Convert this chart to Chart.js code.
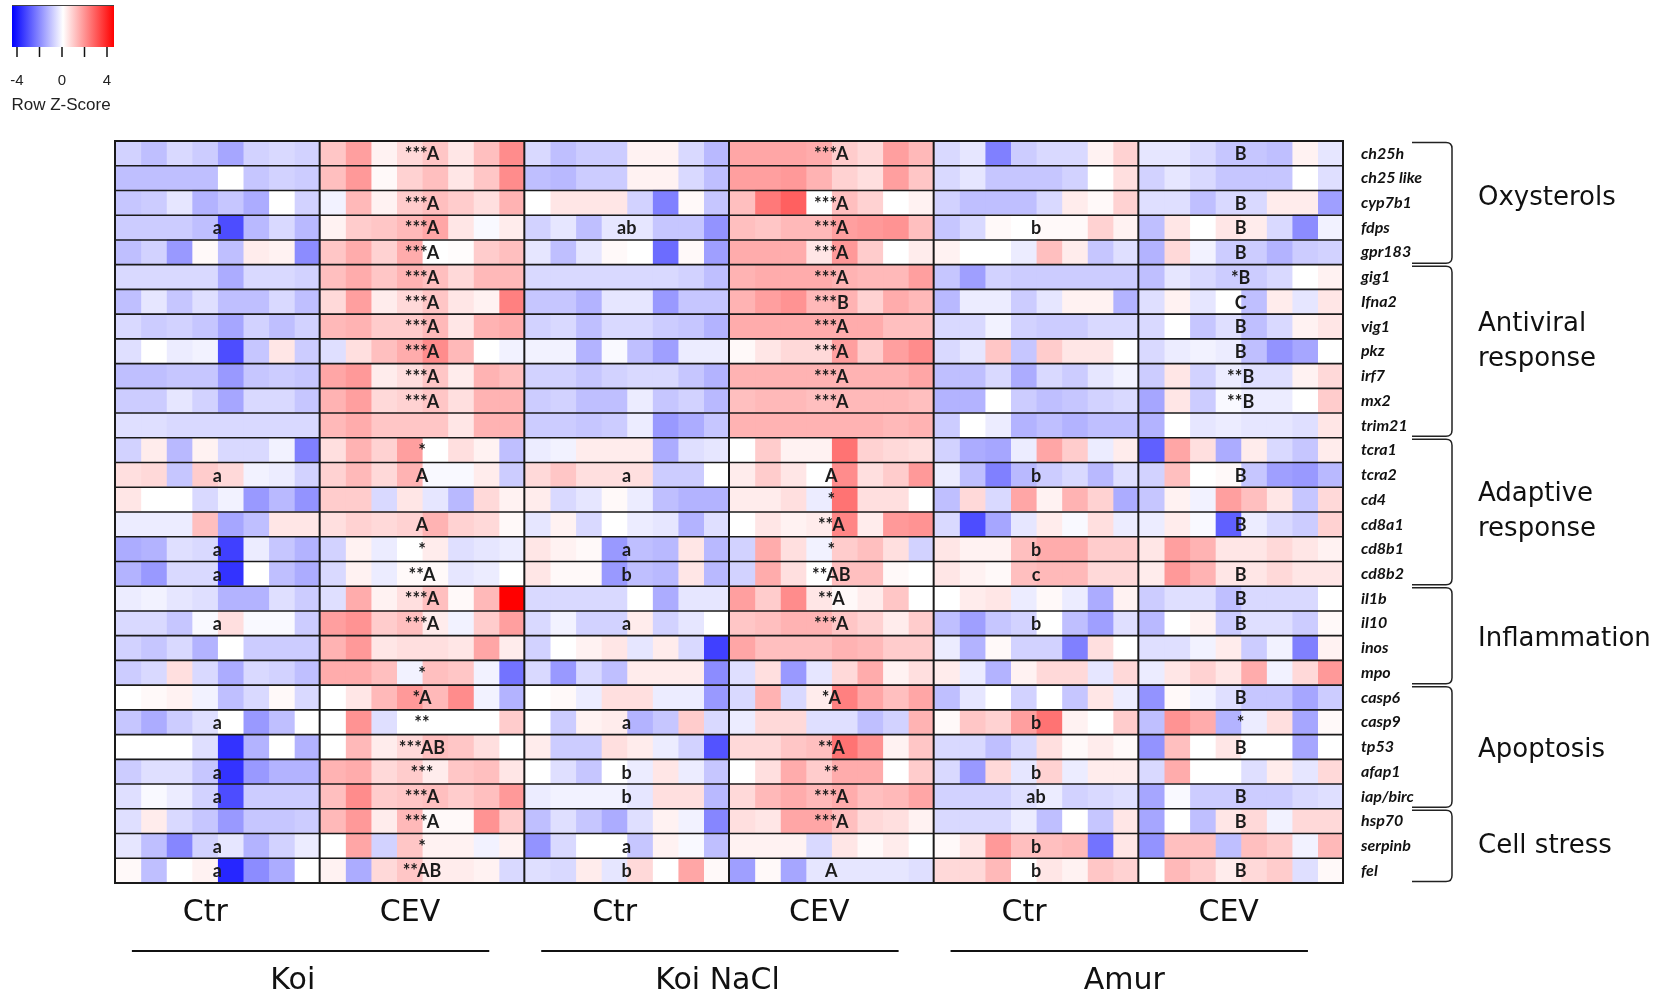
<!DOCTYPE html>
<html>
<head>
<meta charset="utf-8">
<script src="https://cdn.jsdelivr.net/npm/chart.js@4.4.1/dist/chart.umd.min.js"></script>
<style>
html,body{margin:0;padding:0;background:#fff;}
#wrap{width:1654px;height:998px;position:relative;}
</style>
</head>
<body>
<div id="wrap"><canvas id="c" width="1654" height="998"></canvas></div>
<script>
// ---------------- DATA ----------------
// Column order: Koi Ctr (8) | Koi CEV (8) | Koi NaCl Ctr (8) | Koi NaCl CEV (8) | Amur Ctr (8) | Amur CEV (8)
const genes = ['ch25h','ch25 like','cyp7b1','fdps','gpr183','gig1','Ifna2','vig1','pkz','irf7','mx2','trim21',
  'tcra1','tcra2','cd4','cd8a1','cd8b1','cd8b2','il1b','il10','inos','mpo','casp6','casp9','tp53','afap1','iap/birc',
  'hsp70','serpinb','fel'];

const ch25h   = [-0.7,-1.0,-0.6,-0.8,-1.4,-0.7,-0.6,-0.7, 0.9,1.5,0.2,0.6,0.9,0.4,1.0,1.8, -0.6,-1.0,-0.8,-0.8,0.2,0.2,-0.6,-1.1, 1.4,1.4,1.4,1.3,0.8,0.6,1.5,1.1, -0.6,-0.4,-2.0,-0.8,-0.6,-0.6,0.2,0.7, -0.4,-0.4,-0.6,-0.9,-0.9,-1.0,0.2,-0.4];
const ch25like= [-1.0,-1.0,-1.0,-1.0,0,-0.9,-0.7,-0.8, 1.0,1.6,0.1,0.7,1.0,0.4,0.9,1.8, -1.0,-1.1,-0.8,-0.8,0.2,0.2,-0.6,-1.0, 1.5,1.5,1.6,1.2,0.7,0.5,1.5,0.9, -0.6,-0.4,-0.9,-0.9,-0.9,-0.7,0,0.5, -0.7,-0.4,-0.6,-0.9,-0.9,-0.9,0,-0.5];
const cyp7b1  = [-0.9,-0.8,-0.4,-1.2,-0.9,-1.3,0,-0.7, -0.2,1.1,0.2,0.8,1.0,0.8,0.5,1.2, 0,0.4,0.4,0.4,-0.7,-2.0,0.1,-0.9, 1.0,2.1,2.5,0,1.0,0.7,0,0.2, -0.7,-1.0,-1.0,-1.0,-0.6,0.3,0.1,0.7, -0.5,-0.5,-1.0,-0.6,-0.6,0.3,0.3,-1.5];
const fdps    = [-0.8,-0.8,-0.8,-1.0,-2.8,-1.1,-0.6,-1.1, 0.2,0.8,0.9,1.1,1.4,0.4,-0.1,0.3, -0.7,-0.4,-1.0,-0.4,-0.4,-0.9,-0.9,-1.7, 1.0,0.9,1.1,1.1,1.5,1.6,1.7,1.0, -0.9,-0.6,0.1,0,0.1,0.1,0.7,0.2, -1.0,0.4,0,0.4,0.3,-0.6,-1.8,-0.2];
const gpr183  = [-1.0,-0.7,-1.6,0.1,-1.0,0.3,0.2,-1.8, 0.9,1.3,0.7,1.3,0,0.05,0.8,1.0, -0.4,-1.0,-0.4,0.1,0,-2.3,0.1,-1.5, 1.3,1.3,1.3,0.4,1.6,0.8,0,0.3, 0.2,0,0,-0.3,1.0,0.3,-0.9,-0.5, -1.2,0.6,-0.2,-0.8,-0.8,-1.2,-0.8,-0.7];
const gig1    = [-0.6,-0.6,-0.6,-0.6,-1.3,-0.6,-0.6,-0.7, 1.0,1.3,0.9,1.2,1.0,0.6,1.1,1.1, -0.6,-0.6,-0.6,-0.6,-0.6,-0.6,-0.7,-1.0, 1.2,1.3,1.3,1.3,1.2,1.1,1.1,1.5, -0.9,-1.5,-0.7,-0.8,-0.8,-0.8,-0.8,-0.8, -1.0,-0.4,-0.6,-0.8,-0.8,-0.6,0,0.2];
const ifna2   = [-1.0,-0.4,-0.9,-0.5,-1.0,-1.0,-0.6,-1.0, 0.6,1.5,0.3,0.6,0.9,0.4,0.2,2.0, -0.9,-0.9,-1.2,-0.4,-0.4,-1.6,-0.9,-0.9, 1.2,1.5,1.7,1.1,1.2,0.7,1.3,1.1, -1.1,-0.3,-0.3,-0.8,-0.4,0.2,0.2,-1.2, -0.5,0.2,-0.4,0,-1.0,0.3,-0.4,0.4];
const vig1    = [-0.6,-0.8,-0.7,-0.9,-1.4,-0.7,-1.0,-0.7, 1.1,1.2,0.8,0.8,1.1,0.4,1.2,1.3, -0.7,-0.6,-1.0,-0.6,-0.6,-0.8,-0.9,-1.2, 1.3,1.3,1.3,1.3,1.3,1.3,1.0,1.0, -0.6,-0.6,-0.2,-0.7,-0.8,-0.8,-0.6,-0.6, -0.6,0,-0.9,-0.5,-1.0,-0.6,0.2,0.4];
const pkz     = [-0.5,0,-0.3,-0.2,-2.8,-0.9,0.4,-0.8, -0.5,0.5,1.0,1.3,1.8,1.1,0,-0.2, -0.2,-0.2,-1.2,-0.1,-1.0,-1.5,-0.3,-0.3, 0.1,0.4,0.6,0.6,1.5,0.8,1.5,1.8, -0.6,-0.4,0.9,-0.9,0.8,0.4,0.4,0, -0.6,-0.3,-0.2,-0.3,-1.0,-1.7,-1.4,0];
const irf7    = [-1.0,-1.0,-0.9,-0.9,-1.6,-0.9,-0.8,-0.9, 1.4,1.6,0.3,0.5,0.9,0.3,1.2,1.0, -0.7,-0.7,-0.9,-0.7,-0.6,-0.6,-0.9,-1.2, 1.2,1.2,1.2,1.2,1.2,1.2,1.2,1.4, -1.0,-1.0,-0.6,-1.3,-0.6,-0.8,-0.4,-0.2, -0.8,0.4,-0.7,-0.3,-0.5,-0.5,0.2,0.6];
const mx2     = [-0.8,-0.8,-0.4,-0.7,-1.4,-0.6,-0.6,-0.9, 1.2,1.5,0.6,0.7,0.9,0.5,1.2,1.2, -0.8,-0.7,-1.0,-1.0,-0.3,-0.9,-0.7,-1.1, 1.0,1.1,1.1,1.0,1.1,1.1,1.1,1.0, -1.2,-1.2,0,-0.8,-1.0,-0.9,-0.7,-0.6, -1.4,0.4,-0.8,-0.1,-0.3,-0.3,0,0.8];
const trim21  = [-0.5,-0.5,-0.6,-0.6,-0.6,-0.6,-0.6,-0.6, 1.1,1.3,0.9,0.9,0.9,0.4,1.2,1.2, -0.8,-0.8,-0.9,-0.8,-0.3,-1.6,-1.3,-0.9, 1.2,1.2,1.2,1.2,1.2,1.2,1.1,1.2, -0.8,0,-0.3,-1.2,-1.0,-1.2,-1.0,-1.0, -1.2,0,-0.4,-0.3,-0.4,-0.4,-0.5,0.4];
const tcra1   = [-0.7,0.3,-1.1,0.2,-0.6,-0.6,-0.2,-2.0, 0.5,1.2,0.7,1.5,0,0.5,0.2,-1.0, -0.3,-0.2,0.3,0.3,0.3,-1.3,-0.5,-0.4, 0,0.8,0.2,0.2,2.2,0.7,0.6,0.5, -0.7,-1.3,-1.4,-0.3,1.4,0.8,-0.3,0.3, -2.5,1.4,0.5,-1.3,0.3,-0.6,-0.9,0.3];
const tcra2   = [0.5,0.6,-0.9,0.8,0.6,-0.2,-0.3,-0.7, 0.7,1.1,0.6,1.2,-0.1,-0.1,0.3,-0.8, 0.6,0.9,0.5,0.5,0.5,-0.8,-0.8,0, 0.3,0.8,0.4,0,1.8,0.5,0.8,1.6, -0.3,-1.0,-2.0,-1.1,-0.8,-0.6,-1.1,-0.5, -0.7,1.0,0,0.1,-0.9,-1.5,-1.6,-1.1];
const cd4     = [0.4,0,0,-0.6,-0.2,-1.6,-1.1,-1.7, 0.8,0.8,-0.6,0.4,-0.4,-1.1,0.6,0.2, 0.3,-0.6,-0.4,0.1,-0.3,-1.0,-1.2,-1.2, 0.3,0.3,0.5,-0.3,2.2,0.5,0.5,0, -1.0,0.6,-0.6,1.4,0.2,1.2,0.7,-1.3, -0.9,0.2,-0.2,1.5,1.0,0.4,-0.9,0.6];
const cd8a1   = [-0.3,-0.3,-0.3,1.0,-1.4,-1.0,0.4,0.4, 0.5,0.7,0.6,0.7,1.2,0.7,0.6,0.1, -0.4,0.2,-0.6,0,-0.3,-0.4,-1.2,-0.5, 0,0.4,0.2,0.3,1.9,0.3,1.6,1.7, -0.6,-2.8,-1.4,-0.4,0.3,-0.1,0.5,-0.3, -0.3,0.3,-0.1,-2.5,-0.3,-0.6,-0.8,0.7];
const cd8b1   = [-1.3,-1.2,-0.5,-0.6,-3.0,-0.3,-0.9,-1.2, -0.7,0.2,-0.3,0,0.3,-0.5,-0.4,-0.3, 0.4,0.2,0.1,-1.6,-1.0,-1.1,0.4,-1.1, -0.7,1.3,0.5,-0.2,0.8,1.0,0.5,-0.7, 0.4,0.2,0.2,1.0,1.3,1.3,0.8,0.8, 0.4,1.5,1.2,0.4,0.4,0.6,0.4,0.2];
const cd8b2   = [-1.2,-1.6,-0.6,-0.6,-3.2,0,-1.0,-1.3, -0.6,0.2,-0.3,0.1,0.1,-0.4,-0.3,0, 0.4,0.1,0.1,-1.6,-1.0,-1.1,0.4,-1.1, -0.7,1.3,0.5,0,1.0,1.0,0.1,0, 0.4,0.2,0.1,1.0,1.1,1.1,0.6,0.6, 0.3,1.6,1.2,0.4,0.4,0.6,0.4,0.4];
const il1b    = [-0.3,-0.2,-0.4,-0.5,-1.2,-1.2,-0.5,-0.8, -0.5,1.3,0.2,0.5,1.0,0.1,1.1,4.0, -0.6,-0.6,-0.6,-0.6,0,-1.3,-0.4,-0.4, 1.5,0.8,1.8,0.4,0.1,0.3,0.9,0, 0,0.3,0.4,-0.3,0.1,-0.3,-1.3,0.2, -0.8,-0.5,-0.5,-1.0,-0.6,-0.6,-0.6,0];
const il10    = [-0.6,-0.6,-0.9,-0.1,0.5,-0.1,-0.1,-0.8, 1.5,1.7,0.8,1.0,0.3,-0.2,0.8,1.5, -0.6,-0.2,-0.7,-0.7,0.3,-0.7,-0.4,0, 0.9,1.0,1.2,1.2,0.9,0.7,0.3,0.8, -1.0,-1.5,-0.9,-0.7,0,-1.0,-1.5,-0.5, -1.1,0,0.2,-0.8,-0.5,-0.5,-0.8,0.1];
const inos    = [-0.7,-0.9,-0.6,-1.2,0,-0.8,-0.8,-0.8, 1.2,1.6,0.4,0.5,0.5,0.4,1.4,0.3, -0.7,0,0.2,0.4,-0.4,0.3,-0.6,-3.0, 1.4,1.0,1.0,1.0,1.2,1.1,0.8,0.8, -0.3,-1.2,0.1,-0.7,-0.7,-2.0,0.5,0, -0.5,-0.5,-0.2,0.3,-0.8,-0.2,-2.0,0.2];
const mpo     = [-0.8,-0.6,0.5,-0.6,-1.3,-0.6,-0.7,-1.0, 1.3,1.3,1.0,-0.2,1.0,0.9,-0.2,-2.2, -0.6,-1.6,-0.6,-1.0,0.3,0.3,0.3,-1.8, -0.5,0.5,-1.6,-0.4,0.6,1.3,0.2,0.5, 0.3,-0.3,-1.2,0.2,0.6,0.6,-0.4,0.6, -0.3,0.4,0.7,0.4,1.3,-0.2,0.6,1.6];
const casp6   = [0,0.1,0.2,-0.2,-1.0,-0.6,0.1,-0.6, 0,0.4,1.1,1.6,1.1,1.8,-0.2,-1.2, 0,0.1,-0.3,0.5,0.5,-0.3,-0.3,-1.6, -0.6,1.2,-0.6,0.3,2.0,1.4,1.0,1.4, -1.0,-0.4,0,-0.7,0,-0.9,0.4,-0.3, -1.7,0.1,-0.2,-0.5,-0.9,-0.9,-1.4,-0.8];
const casp9   = [-0.9,-1.3,-0.8,-0.5,0,-1.6,-1.0,0, 0,1.7,-0.5,0,0,0,0,0.8, 0,-0.8,0.2,0.3,-1.2,-0.9,0.8,-0.6, -0.3,0.6,0.6,-0.5,-0.5,-1.0,-0.7,1.2, 0.1,0.9,0.7,1.5,2.2,0.2,0,0.8, -1.0,1.7,1.3,-1.2,-0.3,0.5,-1.4,0.1];
const tp53    = [0,0,0,-0.5,-3.2,-1.2,0,-1.2, 0,1.1,0.3,0.6,1.0,0.9,0.5,0, 0.3,-0.8,-0.8,0.5,0.3,-0.3,-0.7,-2.7, 0.6,0.6,0.9,1.0,2.2,1.7,0.2,0.9, -0.6,-0.6,-1.0,-0.6,0.5,0.1,0.3,0.1, -1.7,1.0,0,0.4,0,0,-1.4,0];
const afap1   = [-0.8,-0.5,-0.5,-0.9,-3.2,-1.6,-1.2,-1.2, 1.2,1.3,0.6,0.8,0.3,0.9,1.0,0.4, 0,-0.5,-0.9,0,-0.3,0.4,-0.3,-0.9, 0,0.5,1.3,0.8,1.3,1.3,0,0.8, -0.6,-1.6,0.6,-0.4,0.7,-0.3,0.3,0.3, -0.6,1.3,0,0,-0.5,0.3,-0.4,0.6];
const iapbirc = [-0.5,-0.1,-0.3,-0.7,-2.8,-0.8,-0.8,-0.8, 1.0,1.8,0.8,0.9,1.0,0.8,1.0,1.6, -0.3,-0.2,-0.2,-0.2,-0.4,0.5,0.5,-1.1, 0.6,1.1,1.3,1.1,1.3,1.0,1.1,1.4, -0.7,-0.7,-0.7,-0.5,-0.3,-0.7,-0.6,-0.5, -1.4,-0.1,-0.8,-0.8,-0.8,-0.8,-0.6,-0.5];
const hsp70   = [-0.5,0.3,-0.6,-0.9,-1.6,-0.9,-0.9,-0.8, 1.1,1.6,0.3,1.1,0.1,0.1,1.7,0.8, -1.0,-0.5,-0.9,-1.3,-0.5,0.2,-0.2,-1.9, 0.5,0.4,1.4,1.4,1.0,0.6,0.5,0.2, -0.6,-0.6,-0.6,-0.3,-1.0,0,-0.9,0.4, -1.4,0,-1.0,0.4,0.6,-0.2,0.6,0.6];
const serpinb = [-0.4,-1.0,-1.9,-0.7,-0.4,-1.2,-0.7,-0.3, 0,1.4,-0.7,0.9,0.2,0.2,-0.2,0.2, -1.7,-0.6,0,0,-0.9,0.2,-0.1,-1.0, 0.2,0.2,0.2,-0.6,0.4,0.1,0.3,0, 0.1,0.4,1.6,1.0,1.0,1.1,-2.2,0.4, -1.7,1.0,1.0,-1.0,1.0,0.8,-0.2,1.1];
const fel     = [0.1,-1.0,0,0.2,-3.4,-1.8,-1.3,0, 0.2,-1.3,0.6,0.9,0.3,0.3,0.2,-0.6, -0.5,-0.6,0.3,-0.4,0.6,0,1.4,0.1, -1.5,0.1,-1.4,-0.4,-0.4,-0.4,-0.4,-0.5, 0.6,0.6,1.1,0,0.4,0.2,0.9,0.7, 0,1.1,0.8,0.3,0.6,0.8,-0.5,0.1];

const heatRows = [ch25h,ch25like,cyp7b1,fdps,gpr183,gig1,ifna2,vig1,pkz,irf7,mx2,trim21,tcra1,tcra2,cd4,cd8a1,
  cd8b1,cd8b2,il1b,il10,inos,mpo,casp6,casp9,tp53,afap1,iapbirc,hsp70,serpinb,fel];

// significance / letter annotations per group (one entry per gene)
const sigKoiCtr  = ['','','','a','','','','','','','','','','a','','','a','a','','a','','','','a','','a','a','','a','a'];
const sigKoiCev  = ['***A','','***A','***A','***A','***A','***A','***A','***A','***A','***A','','*','A','','A','*','**A','***A','***A','','*','*A','**','***AB','***','***A','***A','*','**AB'];
const sigNaclCtr = ['','','','ab','','','','','','','','','','a','','','a','b','','a','','','','a','','b','b','','a','b'];
const sigNaclCev = ['***A','','***A','***A','***A','***A','***B','***A','***A','***A','***A','','','A','*','**A','*','**AB','**A','***A','','','*A','','**A','**','***A','***A','','A'];
const sigAmurCtr = ['','','','b','','','','','','','','','','b','','','b','c','','b','','','','b','','b','ab','','b','b'];
const sigAmurCev = ['B','','B','B','B','*B','C','B','B','**B','**B','','','B','','B','','B','B','B','','','B','*','B','','B','B','','B'];
const groupSig = [sigKoiCtr,sigKoiCev,sigNaclCtr,sigNaclCev,sigAmurCtr,sigAmurCev];

const groupLabels = ['Ctr','CEV','Ctr','CEV','Ctr','CEV'];
const speciesLabels = ['Koi','Koi NaCl','Amur'];
const categoryNames = [['Oxysterols'],['Antiviral','response'],['Adaptive','response'],['Inflammation'],['Apoptosis'],['Cell stress']];
const categoryFirst = [0,5,12,18,22,27];
const categoryLast  = [4,11,17,21,26,29];
const zTicks = [-4,-2,0,2,4];
const zTickLabels = ['-4','','0','','4'];

const COLS_PER_GROUP = 8;
const NCOLS = 48;

// ---------------- HELPERS ----------------
function zColor(v){
  const t = Math.max(-1, Math.min(1, v/4));
  let r,g,b;
  if (t < 0){ r = g = Math.round(255*(1+t)); b = 255; }
  else { r = 255; g = b = Math.round(255*(1-t)); }
  return 'rgb('+r+','+g+','+b+')';
}

const datasets = [];
for (let c = 0; c < NCOLS; c++){
  datasets.push({
    data: genes.map(() => [c, c+1]),
    backgroundColor: heatRows.map(r => zColor(r[c])),
    borderWidth: 0,
    grouped: false,
    barPercentage: 1,
    categoryPercentage: 1,
    inflateAmount: 0.6
  });
}

// layout-only offsets (pixels) for the category texts on the right
const catTextShift = [-5, -9, 0, 4, 3, 0];

const decor = {
  id: 'decor',
  afterDatasetsDraw(chart){
    const ctx = chart.ctx;
    const xs = chart.scales.x, ys = chart.scales.y;
    const area = chart.chartArea;
    const rowH = ys.getPixelForValue(1) - ys.getPixelForValue(0);
    const rowTop = i => ys.getPixelForValue(0) - rowH/2 + i*rowH;
    ctx.save();
    // row lines
    ctx.strokeStyle = '#1a1a1a';
    ctx.lineWidth = 1.6;
    for (let i = 1; i < genes.length; i++){
      const y = rowTop(i);
      ctx.beginPath(); ctx.moveTo(area.left, y); ctx.lineTo(area.right, y); ctx.stroke();
    }
    // group lines
    ctx.lineWidth = 2;
    for (let g = 1; g < 6; g++){
      const x = xs.getPixelForValue(g*COLS_PER_GROUP);
      ctx.beginPath(); ctx.moveTo(x, area.top); ctx.lineTo(x, area.bottom); ctx.stroke();
    }
    ctx.strokeRect(area.left, area.top, area.right-area.left, area.bottom-area.top);

    // annotations
    ctx.fillStyle = '#1b1b1b';
    ctx.font = 'bold 18px Lato, "Open Sans", sans-serif';
    ctx.textAlign = 'center';
    ctx.textBaseline = 'middle';
    for (let g = 0; g < 6; g++){
      const x = xs.getPixelForValue(g*COLS_PER_GROUP + COLS_PER_GROUP/2);
      groupSig[g].forEach((s, i) => {
        if (s) ctx.fillText(s, x, ys.getPixelForValue(i) + 1);
      });
    }

    // gene labels
    ctx.font = 'italic bold 16px Lato, "Open Sans", sans-serif';
    ctx.textAlign = 'left';
    ctx.fillStyle = '#111';
    genes.forEach((gname, i) => ctx.fillText(gname, area.right + 18, ys.getPixelForValue(i)));

    // brackets
    ctx.strokeStyle = '#222';
    ctx.lineWidth = 1.5;
    const bx0 = area.right + 69, bx1 = area.right + 109, rad = 6;
    for (let k = 0; k < categoryFirst.length; k++){
      const y0 = rowTop(categoryFirst[k]) + 1.5;
      const y1 = rowTop(categoryLast[k] + 1) - 1.5;
      ctx.beginPath();
      ctx.moveTo(bx0, y0);
      ctx.lineTo(bx1 - rad, y0);
      ctx.quadraticCurveTo(bx1, y0, bx1, y0 + rad);
      ctx.lineTo(bx1, y1 - rad);
      ctx.quadraticCurveTo(bx1, y1, bx1 - rad, y1);
      ctx.lineTo(bx0, y1);
      ctx.stroke();
      // category name
      ctx.fillStyle = '#111';
      ctx.font = '26px "DejaVu Sans", sans-serif';
      ctx.textAlign = 'left';
      const lines = categoryNames[k];
      const mid = (y0 + y1)/2 + catTextShift[k];
      const lh = 35;
      lines.forEach((t, j) => {
        ctx.fillText(t, area.right + 135, mid + (j - (lines.length-1)/2)*lh);
      });
    }

    // group labels below
    ctx.fillStyle = '#111';
    ctx.textAlign = 'center';
    ctx.font = '30px "DejaVu Sans", sans-serif';
    for (let g = 0; g < 6; g++){
      ctx.fillText(groupLabels[g], xs.getPixelForValue(g*COLS_PER_GROUP + COLS_PER_GROUP/2) - 12, area.bottom + 30);
    }
    // species lines & labels
    const spOffset = [-0.7, -0.1, -0.2];
    for (let s = 0; s < 3; s++){
      const xa = xs.getPixelForValue(s*16 + 0.66), xb = xs.getPixelForValue(s*16 + 14.63);
      ctx.lineWidth = 2;
      ctx.strokeStyle = '#111';
      ctx.beginPath(); ctx.moveTo(xa, area.bottom + 68); ctx.lineTo(xb, area.bottom + 68); ctx.stroke();
      ctx.font = '30px "DejaVu Sans", sans-serif';
      ctx.fillText(speciesLabels[s], xs.getPixelForValue(s*16 + 7.65 + spOffset[s]), area.bottom + 98);
    }

    // colour key
    const kx0 = 12, kx1 = 114, ky0 = 5, ky1 = 47;
    const grad = ctx.createLinearGradient(kx0, 0, kx1, 0);
    grad.addColorStop(0, zColor(-4.4));
    grad.addColorStop(0.5, zColor(0));
    grad.addColorStop(1, zColor(4.4));
    ctx.fillStyle = grad;
    ctx.fillRect(kx0, ky0, kx1-kx0, ky1-ky0);
    ctx.strokeStyle = '#444';
    ctx.lineWidth = 1;
    ctx.beginPath(); ctx.moveTo(kx0, ky0+0.5); ctx.lineTo(kx1, ky0+0.5); ctx.stroke();
    const kp = v => 62 + v*11.25;
    ctx.strokeStyle = '#111';
    ctx.lineWidth = 1.5;
    ctx.fillStyle = '#222';
    ctx.font = '15px "Liberation Sans", Arial, sans-serif';
    ctx.textAlign = 'center';
    zTicks.forEach((v, i) => {
      ctx.beginPath(); ctx.moveTo(kp(v), ky1); ctx.lineTo(kp(v), ky1 + 10); ctx.stroke();
      if (zTickLabels[i]) ctx.fillText(zTickLabels[i], kp(v), 81);
    });
    ctx.font = '17px "Liberation Sans Narrow", "Liberation Sans", Arial, sans-serif';
    ctx.fillText('Row Z-Score', 61, 105);
    ctx.restore();
  }
};

new Chart(document.getElementById('c').getContext('2d'), {
  type: 'bar',
  data: { labels: genes, datasets },
  options: {
    indexAxis: 'y',
    responsive: false,
    animation: false,
    events: [],
    devicePixelRatio: 1,
    layout: { padding: { left: 115, top: 141, right: 311, bottom: 115 } },
    plugins: { legend: { display: false }, tooltip: { enabled: false } },
    scales: {
      x: { type: 'linear', min: 0, max: NCOLS, display: false },
      y: { type: 'category', display: false }
    }
  },
  plugins: [decor]
});
</script>
</body>
</html>
